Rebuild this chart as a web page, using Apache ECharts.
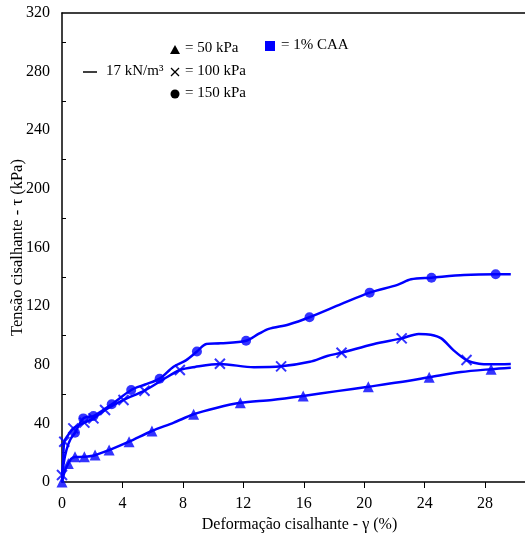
<!DOCTYPE html>
<html>
<head>
<meta charset="utf-8">
<script src="https://cdn.jsdelivr.net/npm/echarts@6/dist/echarts.min.js"></script>
<style>
  html, body { margin: 0; padding: 0; background: #fff; }
  #chart { width: 525px; height: 542px; }
</style>
</head>
<body>
<div id="chart"></div>
<script>
// eixos
var xTicks = [0, 4, 8, 12, 16, 20, 24, 28];
var yTicks = [0, 40, 80, 120, 160, 200, 240, 280, 320];

// 50 kPa (triangulos)
var curve50 = [[0,0],[0.2,8],[0.42,12.7],[0.6,15.8],[0.86,17],[1.48,17.2],[2.19,18.3],[3.12,21.8],[4.44,27.5],[5.95,34.8],[7.4,40.5],[8.71,46.2],[10.2,50.5],[11.8,54],[13.9,56],[15.96,58.7],[18.2,62],[20.27,65],[22.3,68],[24.3,71.4],[26.4,75],[28.4,77],[29.7,78]];
var marks50 = [[0,0],[0.42,12.7],[0.86,17.3],[1.48,17.3],[2.19,18.4],[3.12,21.8],[4.44,27.5],[5.95,34.8],[8.71,46.2],[11.8,54.1],[15.96,58.7],[20.27,65],[24.3,71.4],[28.4,76.9]];

// 100 kPa (x)
var curve100 = [[0,4.8],[0.08,15],[0.15,27.5],[0.4,32],[0.75,36.6],[1.48,40.5],[2.08,43.4],[2.85,49.1],[4.07,56],[5.46,62.3],[6.7,70],[7.8,76.4],[8.8,78.5],[10.45,80.5],[12.7,78.3],[14.5,78.9],[16.4,82],[17.55,86],[18.5,88.2],[20.6,94],[22.48,98],[23.6,101],[24.4,100.5],[25.1,98],[25.9,90],[26.77,83.2],[27.6,80.7],[28.4,80.3],[29.7,80.5]];
var marks100 = [[0,4.8],[0.15,27.5],[0.75,36.6],[1.48,40.5],[2.08,43.4],[2.85,49.1],[4.07,56],[5.46,62.3],[7.8,76.4],[10.45,80.7],[14.5,78.9],[18.5,88.2],[22.48,98],[26.77,83.2]];

// 150 kPa (circulos)
var curve150 = [[0,0],[0.1,12],[0.3,22],[0.55,29],[0.86,33.6],[1.41,43.4],[2.08,45],[2.7,49],[3.29,53],[4.58,62.8],[5.5,66.5],[6.46,70.5],[7.38,78.7],[8.2,83],[8.93,89],[9.55,94.2],[10.5,94.6],[12.18,96.4],[13.0,101],[13.68,104.5],[15,107.5],[16.38,112.4],[18.5,121.5],[20.36,129.2],[22.2,134.5],[23.1,138.3],[24.45,139.4],[26.6,141.2],[28.7,141.7],[29.7,141.7]];
var marks150 = [[0.86,33.6],[1.41,43.4],[2.08,45],[3.29,53],[4.58,62.8],[6.46,70.5],[8.93,89],[12.18,96.4],[16.38,112.4],[20.36,129.2],[24.45,139.4],[28.7,141.7]];

var blue = '#0000ff';
var serif = '"Liberation Serif", "Times New Roman", serif';
var crossPath = 'path://M0,0L10,10M10,0L0,10';

function lineSeries(data) {
    return {type: 'line', data: data, smooth: 0.3, showSymbol: false, symbol: 'none',
        lineStyle: {color: blue, width: 2.5}, z: 2, silent: true};
}
function markSeries(data, symbol, size, cross) {
    return {type: 'scatter', data: data, symbol: symbol, symbolSize: size, z: 3, silent: true,
        itemStyle: cross ? {color: 'transparent', borderColor: blue, borderWidth: 2} : {color: blue}};
}

var chart = echarts.init(document.getElementById('chart'));
chart.setOption({
    animation: false,
    grid: {left: 62, top: 13, right: 0, bottom: 60, containLabel: false, outerBoundsMode: 'none'},
    xAxis: [{
        type: 'value', min: 0, max: 30.64, interval: 4,
        name: 'Deformação cisalhante - γ (%)', nameLocation: 'middle', nameGap: 34,
        nameTextStyle: {fontFamily: serif, fontSize: 16, color: '#000', padding: [0, 0, 0, 12]},
        axisLine: {lineStyle: {color: '#000', width: 1.5}},
        axisTick: {show: true, length: 6, lineStyle: {color: '#000'}, customValues: xTicks.slice(1)},
        axisLabel: {fontFamily: serif, fontSize: 16, color: '#000', margin: 14, customValues: xTicks},
        splitLine: {show: false}
    }, {
        type: 'value', position: 'top', min: 0, max: 30.64,
        axisLine: {show: true, lineStyle: {color: '#000', width: 1.5}},
        axisTick: {show: false}, axisLabel: {show: false}, splitLine: {show: false}
    }],
    yAxis: {
        type: 'value', min: 0, max: 320, interval: 40,
        name: 'Tensão cisalhante - τ (kPa)', nameLocation: 'middle', nameGap: 36, nameMoveOverlap: false,
        nameTextStyle: {fontFamily: serif, fontSize: 16.5, color: '#000'},
        axisLine: {show: true, lineStyle: {color: '#000', width: 1.5}},
        axisTick: {show: true, inside: true, length: 4, lineStyle: {color: '#000'},
            customValues: [20, 60, 100, 140, 180, 220, 260, 300]},
        axisLabel: {fontFamily: serif, fontSize: 16, color: '#000', margin: 12, customValues: yTicks},
        splitLine: {show: false}
    },
    series: [
        lineSeries(curve50), lineSeries(curve100), lineSeries(curve150),
        markSeries(marks50, 'triangle', 11),
        markSeries(marks100, crossPath, 10, true),
        markSeries(marks150, 'circle', 10)
    ],
    graphic: [
        {type: 'polygon', shape: {points: [[175, 45], [170, 54], [180, 54]]}, style: {fill: '#000'}},
        {type: 'text', left: 185, top: 41, style: {text: '= 50 kPa', font: '15px ' + serif, fill: '#000'}},
        {type: 'line', shape: {x1: 83, y1: 72, x2: 97, y2: 72}, style: {stroke: '#000', lineWidth: 1.5}},
        {type: 'text', left: 106, top: 64, style: {text: '17 kN/m³', font: '15px ' + serif, fill: '#000'}},
        {type: 'line', shape: {x1: 171, y1: 68, x2: 179, y2: 76}, style: {stroke: '#000', lineWidth: 1.3}},
        {type: 'line', shape: {x1: 179, y1: 68, x2: 171, y2: 76}, style: {stroke: '#000', lineWidth: 1.3}},
        {type: 'text', left: 185, top: 64, style: {text: '= 100 kPa', font: '15px ' + serif, fill: '#000'}},
        {type: 'circle', shape: {cx: 175, cy: 94, r: 4.5}, style: {fill: '#000'}},
        {type: 'text', left: 185, top: 86, style: {text: '= 150 kPa', font: '15px ' + serif, fill: '#000'}},
        {type: 'rect', shape: {x: 265, y: 41, width: 10, height: 10}, style: {fill: blue}},
        {type: 'text', left: 281, top: 38, style: {text: '= 1% CAA', font: '15px ' + serif, fill: '#000'}}
    ]
});
</script>
</body>
</html>
